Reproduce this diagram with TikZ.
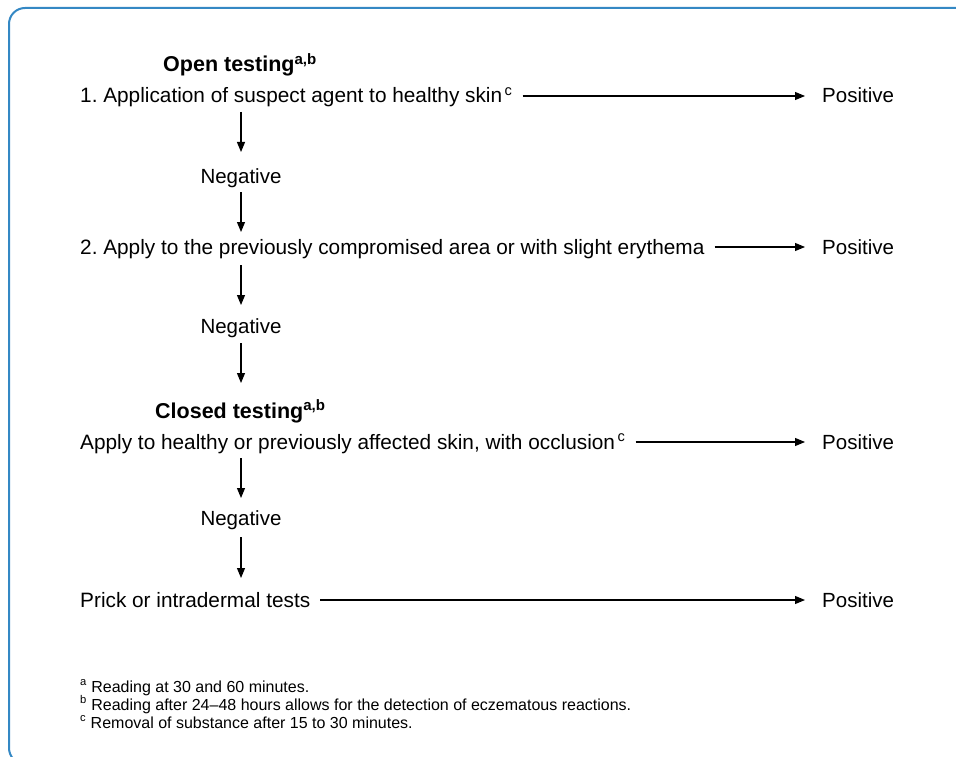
\documentclass[tikz,border=0pt]{standalone}
\usepackage{fontspec}
\setmainfont{Liberation Sans}
\usetikzlibrary{arrows.meta,positioning}
\definecolor{framecol}{RGB}{52,136,196}
\frenchspacing

\begin{document}
\begin{tikzpicture}[x=1pt,y=-1pt]
    \tikzstyle{txt} = [inner sep=0pt, anchor=base west,
        font=\fontsize{20.5}{24}\selectfont]
    \tikzstyle{stepbox} = [txt, font=\fontsize{20.8}{24}\selectfont]
    \tikzstyle{head} = [txt, font=\fontsize{21.5}{24}\selectfont\bfseries]
    \tikzstyle{neg} = [txt, anchor=base]
    \tikzstyle{note} = [txt, font=\fontsize{16}{18}\selectfont]
    \tikzstyle{line} = [draw, line width=1.1pt,
        -{Triangle[length=10pt,width=8pt]}]

    \useasboundingbox (0,0) rectangle (956,757);
    % frame
    \begin{scope}
      \clip (0,0) rectangle (956,757);
      \draw[framecol, line width=2pt, rounded corners=16pt]
          (9,8) rectangle (990,764);
    \end{scope}

    % Open testing
    \node[head] (openname) at (163,72) {Open testing\textsuperscript{a,b}};
    \node[stepbox] (step1) at (80,103) {1. Application of suspect agent to
        healthy skin\textsuperscript{\,c}};
    \node[txt] (pos1) at (822,103) {Positive};
    \node[neg] (neg1) at (241,183) {Negative};
    \node[stepbox] (step2) at (80,254) {2. Apply to the previously
        compromised area or with slight erythema};
    \node[txt] (pos2) at (822,254) {Positive};
    \node[neg] (neg2) at (241,333) {Negative};
    % Closed testing
    \node[head] (closedname) at (155,418) {Closed testing\textsuperscript{a,b}};
    \node[stepbox] (step3) at (80,449) {Apply to healthy or previously
        affected skin, with occlusion\textsuperscript{\,c}};
    \node[txt] (pos3) at (822,449) {Positive};
    \node[neg] (neg3) at (241,525) {Negative};
    \node[stepbox] (step4) at (80,607) {Prick or intradermal tests};
    \node[txt] (pos4) at (822,607) {Positive};
    % footnotes
    \node[note] (notea) at (80,692) {\textsuperscript{a} Reading at 30 and
        60 minutes.};
    \node[note] (noteb) at (80,710) {\textsuperscript{b} Reading after
        24--48 hours allows for the detection of eczematous reactions.};
    \node[note] (notec) at (80,728) {\textsuperscript{c} Removal of
        substance after 15 to 30 minutes.};

    \draw[line] ([shift={(10pt,7pt)}]step1.base east) --
        ([shift={(-17pt,7pt)}]pos1.base west);
    \draw[line] ([shift={(10pt,7pt)}]step2.base east) --
        ([shift={(-17pt,7pt)}]pos2.base west);
    \draw[line] ([shift={(10pt,7pt)}]step3.base east) --
        ([shift={(-17pt,7pt)}]pos3.base west);
    \draw[line] ([shift={(10pt,7pt)}]step4.base east) --
        ([shift={(-17pt,7pt)}]pos4.base west);

    \draw[line] ([yshift=-9pt]step1.base -| neg1.base) --
        ([yshift=31pt]neg1.base);
    \draw[line] ([yshift=-9pt]neg1.base) --
        ([yshift=22pt]step2.base -| neg1.base);
    \draw[line] ([yshift=-11pt]step2.base -| neg2.base) --
        ([yshift=28pt]neg2.base);
    \draw[line] ([yshift=-10pt]neg2.base) --
        ([yshift=35pt]closedname.base -| neg2.base);
    \draw[line] ([yshift=-9pt]step3.base -| neg3.base) --
        ([yshift=27pt]neg3.base);
    \draw[line] ([yshift=-12pt]neg3.base) --
        ([yshift=29pt]step4.base -| neg3.base);
\end{tikzpicture}
\end{document}
